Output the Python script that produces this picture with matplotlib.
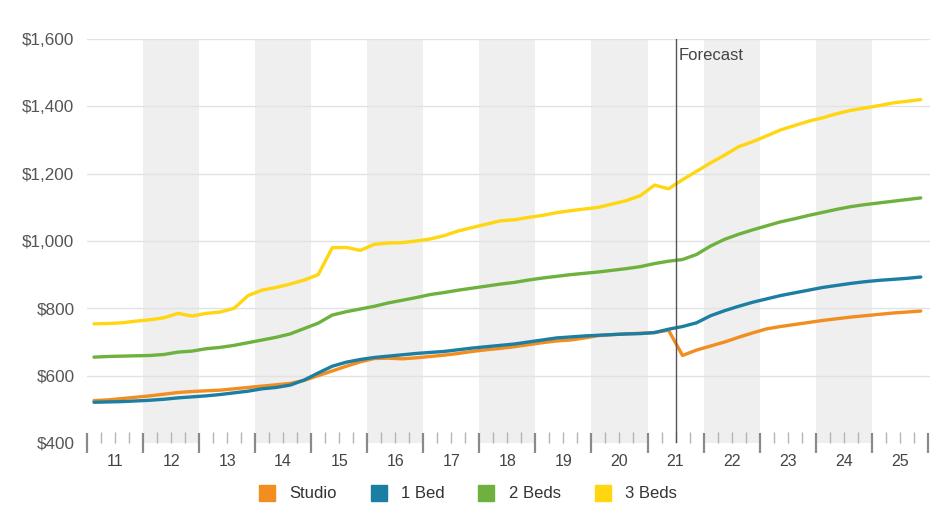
import matplotlib
matplotlib.use("Agg")
import matplotlib.pyplot as plt
from matplotlib.lines import Line2D
from matplotlib.transforms import blended_transform_factory
import numpy as np

plt.rcParams['font.family'] = ['Liberation Sans', 'DejaVu Sans']

# Quarterly rents, 2011 Q1 .. 2025 Q4 (forecast from mid-2021)
first_year = 2011
last_year = 2025
forecast_start = 2021.5

studio = [526, 528, 532, 536, 540, 545, 550, 553, 555, 557, 561, 565,
          569, 573, 577, 586, 600, 614, 628, 641, 651, 652, 650, 653,
          657, 661, 666, 672, 677, 681, 686, 692, 698, 703, 706, 712,
          719, 722, 724, 726, 728, 735, 660, 676, 688, 700, 714, 727,
          739, 746, 752, 758, 764, 769, 774, 778, 782, 786, 789, 792]
one_bed = [521, 522, 523, 525, 527, 530, 534, 537, 540, 544, 549, 554,
           561, 565, 572, 587, 608, 628, 640, 648, 654, 658, 662, 666,
           669, 672, 677, 682, 686, 690, 694, 700, 706, 712, 715, 718,
           720, 722, 724, 725, 728, 738, 746, 757, 778, 793, 806, 818,
           828, 838, 846, 854, 862, 868, 874, 879, 883, 886, 889, 893]
two_beds = [655, 657, 658, 659, 660, 663, 670, 673, 680, 684, 690, 698,
            706, 714, 724, 740, 756, 780, 790, 798, 806, 816, 824, 832,
            841, 847, 854, 860, 866, 872, 877, 884, 890, 895, 900, 904,
            908, 913, 918, 924, 933, 940, 945, 960, 985, 1005, 1020, 1033,
            1045, 1057, 1066, 1076, 1085, 1094, 1102, 1108, 1113, 1118, 1123, 1128]
three_beds = [754, 755, 757, 762, 766, 772, 785, 777, 785, 789, 800, 838,
              854, 862, 872, 884, 900, 980, 981, 972, 990, 994, 995, 1000,
              1006, 1016, 1030, 1040, 1050, 1060, 1063, 1070, 1076, 1084, 1090, 1095,
              1100, 1110, 1120, 1135, 1166, 1155, 1182, 1207, 1232, 1255, 1280, 1295,
              1312, 1330, 1343, 1356, 1366, 1378, 1388, 1395, 1402, 1410, 1415, 1420]

series_names = ["Studio", "1 Bed", "2 Beds", "3 Beds"]
series_values = [studio, one_bed, two_beds, three_beds]
series_colors = ["#F28D1F", "#1C7EA3", "#6EB13F", "#FFD60F"]

y_ticks = [400, 600, 800, 1000, 1200, 1400, 1600]
year_labels = [f"{y % 100:02d}" for y in range(first_year, last_year + 1)]

# x positions: middle of each quarter, in decimal years
n = len(studio)
x = first_year + (np.arange(n) + 0.5) / 4.0

fig = plt.figure(figsize=(9.30, 5.21), dpi=100)
fig.patch.set_facecolor("white")
ax = fig.add_axes([87 / 930, 78 / 521, 843 / 930, 404 / 521])
ax.set_facecolor("white")

# alternating year bands
for yr in range(first_year + 1, last_year + 1, 2):
    ax.axvspan(yr, yr + 1, color="#efefef", lw=0, zorder=0)

ax.set_xlim(first_year, last_year + 1.04)
ax.set_ylim(y_ticks[0], y_ticks[-1])

# horizontal grid
for v in y_ticks[1:]:
    ax.axhline(v, color="#e2e2e2", lw=1, zorder=1)

for name, vals, col in zip(series_names, series_values, series_colors):
    ax.plot(x, vals, color=col, lw=2.4, solid_capstyle="round",
            solid_joinstyle="round", zorder=3, label=name)

# forecast marker
ax.axvline(forecast_start, color="#555555", lw=1.0, zorder=4)
ax.text(forecast_start + 0.06, 1552, "Forecast", fontsize=12,
        color="#444444", ha="left", va="center")

for s in ax.spines.values():
    s.set_visible(False)

ax.set_yticks(y_ticks)
ax.set_yticklabels([f"${v:,}" for v in y_ticks])
ax.tick_params(axis="y", length=0, pad=9, labelsize=12.3, labelcolor="#555555")

years = np.arange(first_year, last_year + 2)
ax.set_xticks(years)
ax.set_xticklabels([])
quarters = [yy + q / 4 for yy in range(first_year, last_year + 1) for q in (1, 2, 3)]
ax.set_xticks(quarters, minor=True)
ax.tick_params(axis="x", which="major", direction="inout", length=15,
               width=1.6, color="#8a8a8a")
ax.tick_params(axis="x", which="minor", direction="in", length=8,
               width=1.0, color="#b5b5b5")

trans = blended_transform_factory(ax.transData, ax.transAxes)
for yr, lab in zip(range(first_year, last_year + 1), year_labels):
    ax.text(yr + 0.5, -0.045, lab, transform=trans, ha="center", va="center",
            fontsize=11.5, color="#444444")

handles = [Line2D([], [], marker="s", linestyle="none", markersize=11,
                  markerfacecolor=c, markeredgecolor=c) for c in series_colors]
fig.legend(handles, series_names, loc="center", bbox_to_anchor=(0.503, 0.052),
           ncol=4, frameon=False, fontsize=12, handlelength=1.0,
           handletextpad=0.85, columnspacing=2.0, labelcolor="#333333")

fig.savefig("out.png", dpi=100, facecolor="white")
